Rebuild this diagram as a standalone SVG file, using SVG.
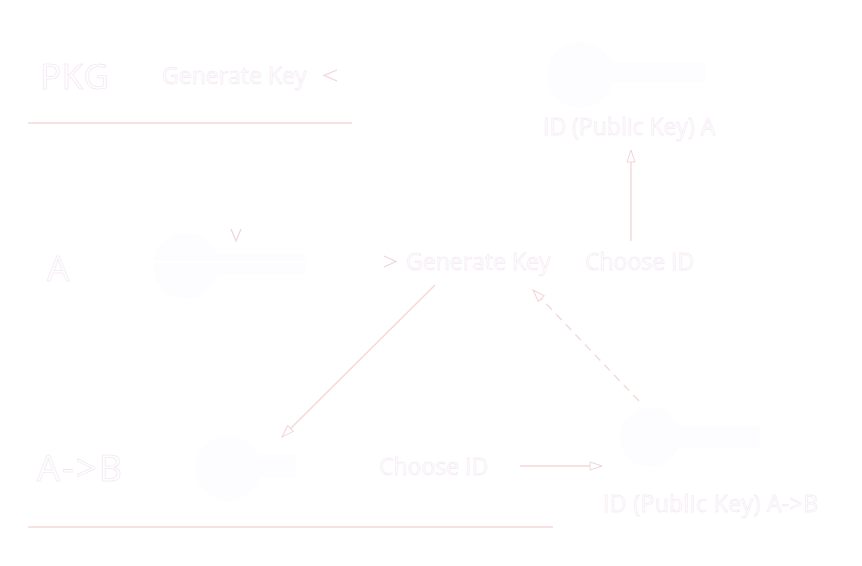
<svg xmlns="http://www.w3.org/2000/svg" width="862" height="566" viewBox="0 0 862 566">
<defs>
<style>
.lbl{font-family:"Open Sans","Liberation Sans",sans-serif;font-size:23px;fill:#ffffff;stroke:#f0e2f0;stroke-width:0.45;}
.big{font-family:"Open Sans","Liberation Sans",sans-serif;font-size:35px;fill:#ffffff;stroke:#f0e2f0;stroke-width:0.55;}
.ln{stroke:#f5d8d8;stroke-width:1.4;fill:none;}
.wl{stroke:#ffffff;stroke-width:1.4;fill:none;}
.chev{stroke:#f3d3d8;stroke-width:1.2;fill:none;}
.key{fill:#fdfdff;}
</style>
<marker id="tri" viewBox="0 0 14 10" refX="13" refY="5" markerWidth="14" markerHeight="10" markerUnits="userSpaceOnUse" orient="auto">
<path d="M1,1 L13,5 L1,9 z" fill="#ffffff" stroke="#f3d3d8" stroke-width="1"/>
</marker>
</defs>
<rect width="862" height="566" fill="#ffffff"/>

<g id="icons">
<g id="key-top"><circle class="key" cx="580" cy="75" r="33"/><rect class="key" x="608" y="62" width="97" height="21"/></g>
<g id="key-a"><circle class="key" cx="186" cy="266" r="33"/><rect class="key" x="214" y="253" width="91" height="22"/></g>
<g id="key-ab"><circle class="key" cx="228" cy="468" r="33"/><rect class="key" x="256" y="455" width="40" height="22"/></g>
<g id="key-id"><circle class="key" cx="650" cy="437" r="30"/><rect class="key" x="676" y="426" width="84" height="22"/></g>
</g>

<g id="connectors">
<line class="ln" x1="28" y1="123" x2="352" y2="123"/>
<line class="ln" x1="28" y1="527" x2="553" y2="527"/>
<line class="wl" x1="353" y1="75" x2="325" y2="75"/>
<polyline class="chev" points="337,70 324,75.5 337,81"/>
<line class="wl" x1="236" y1="124" x2="236" y2="240"/>
<polyline class="chev" points="231,229 236,241 241,229"/>
<line class="wl" x1="80" y1="262" x2="395" y2="262"/>
<polyline class="chev" points="384,256 396,261.5 384,267"/>
<line class="ln" x1="631" y1="241" x2="631" y2="150" marker-end="url(#tri)"/>
<line class="ln" x1="435" y1="285" x2="282" y2="437" marker-end="url(#tri)"/>
<line class="ln" x1="639" y1="401" x2="533" y2="290" stroke-dasharray="8 6" marker-end="url(#tri)"/>
<line class="ln" x1="520" y1="466" x2="602" y2="466" marker-end="url(#tri)"/>
</g>

<g id="pkg"><text class="big" x="40" y="89" textLength="69" lengthAdjust="spacing">PKG</text></g>
<g id="pkg-generate"><text class="lbl" x="162" y="84">Generate Key</text></g>
<g id="node-a"><text class="big" x="47" y="281">A</text></g>
<g id="a-generate"><text class="lbl" x="406" y="270">Generate Key</text></g>
<g id="a-choose"><text class="lbl" x="585" y="270">Choose ID</text></g>
<g id="id-a"><text class="lbl" x="543" y="135">ID (Public Key) A</text></g>
<g id="node-ab"><text class="big" x="37" y="481" style="font-size:36px" textLength="85" lengthAdjust="spacing">A-&gt;B</text></g>
<g id="ab-choose"><text class="lbl" x="379" y="475">Choose ID</text></g>
<g id="id-ab"><text class="lbl" x="603" y="512" textLength="215" lengthAdjust="spacing">ID (Public Key) A-&gt;B</text></g>
</svg>
